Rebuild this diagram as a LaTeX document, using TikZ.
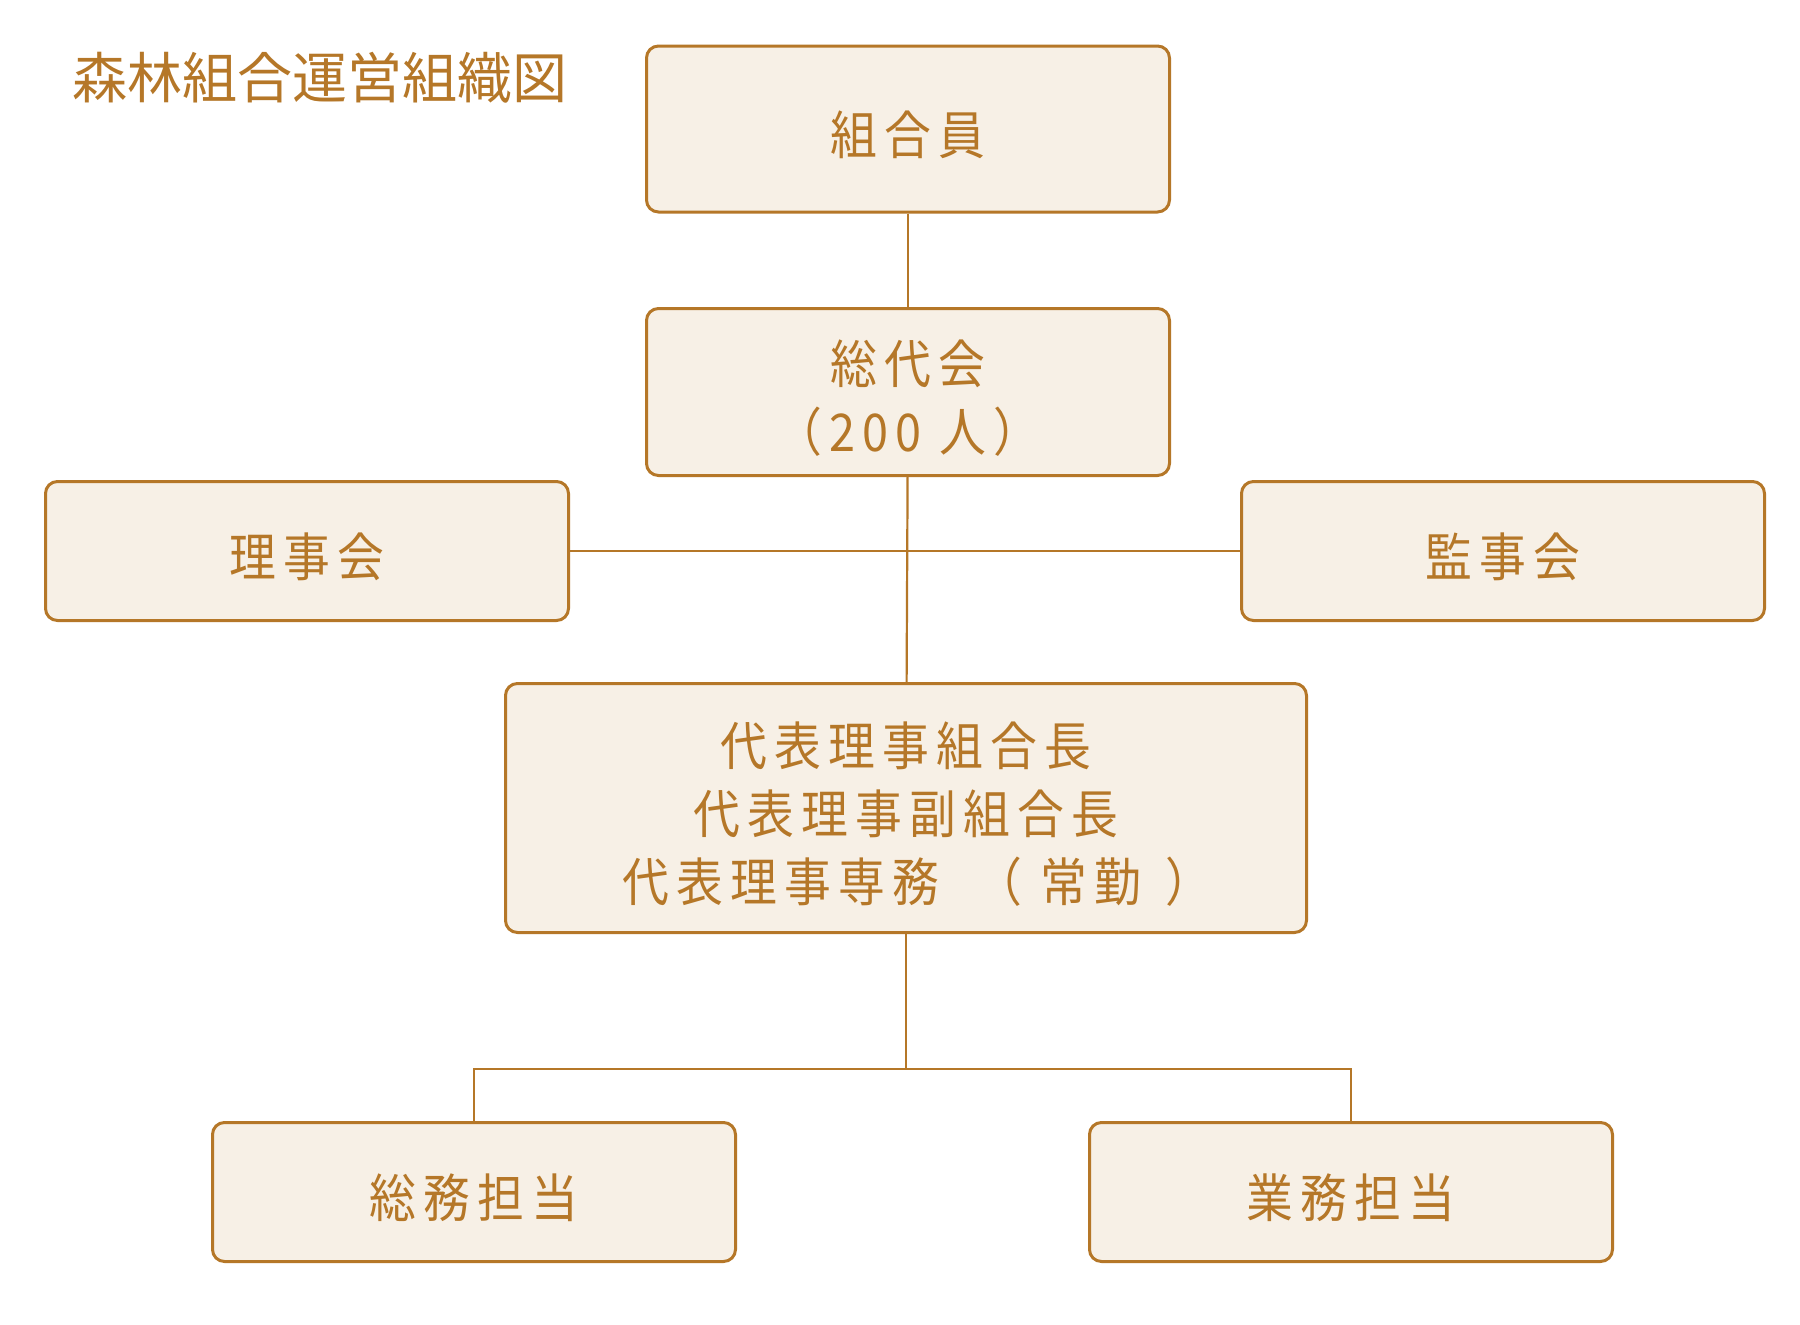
\documentclass[tikz,border=0pt]{standalone}
\usepackage{fontspec}
\usepackage{tikz}
\usetikzlibrary{calc}
\newfontfamily\jpfont[FakeStretch=0.9,LetterSpace=14]{Noto Sans CJK JP}
\newfontfamily\jptitle{Noto Sans CJK JP}
\definecolor{orgline}{RGB}{181,119,40}
\definecolor{orgfill}{RGB}{247,240,230}
% box text, set a little below the middle
\newcommand{\boxtext}[1]{\raisebox{-12pt}[\height][\depth]{\begin{tabular}{@{}c@{}}#1\end{tabular}}}
\tikzset{
	orgbox/.style={draw=orgline, fill=orgfill, line width=3pt, rounded corners=12pt,
		inner sep=0pt, minimum width=523pt, minimum height=139pt, align=center,
		text=orgline, font={\jpfont\fontsize{52}{68}\selectfont}},
	orglink/.style={draw=orgline, line width=2.2pt}
}
\begin{document}
\begin{tikzpicture}[x=1pt, y=-1pt]
			\fill[white] (0,0) rectangle (1800,1325);
			\useasboundingbox (0,0) rectangle (1800,1325);
			\node (title) [anchor=west, inner sep=0pt, text=orgline, font={\jptitle\fontsize{55}{60}\selectfont}] at (72,78) {森林組合運営組織図};
			% boxes
			\node (kumiai) [orgbox, minimum height=166pt] at (908,129) {\boxtext{組合員}};
			\node (soudai) [orgbox, minimum height=167pt] at (908,392) {\boxtext{総代会\\（200 人）}};
			\node (riji) [orgbox] at (307,551) {\boxtext{理事会}};
			\node (kanji) [orgbox] at (1503,551) {\boxtext{監事会}};
			\node (daihyo) [orgbox, minimum width=801pt, minimum height=249pt] at (906,808)
				{\boxtext{代表理事組合長\\代表理事副組合長\\代表理事専務\hspace{36pt}（\kern18pt 常勤\kern24pt ）\kern-22pt}};
			\node (soumu) [orgbox] at (474,1192) {\boxtext{総務担当}};
			\node (gyoumu) [orgbox] at (1351,1192) {\boxtext{業務担当}};
			% links
			\path[orglink]
			(kumiai) edge (soudai)
			(riji) edge (kanji)
			(soudai) edge (daihyo);
			\draw[orglink] (daihyo.south) -- ++(0,135) coordinate (fork);
			\draw[orglink] (soumu.north) |- (fork) -| (gyoumu.north);
		\end{tikzpicture}
\end{document}
